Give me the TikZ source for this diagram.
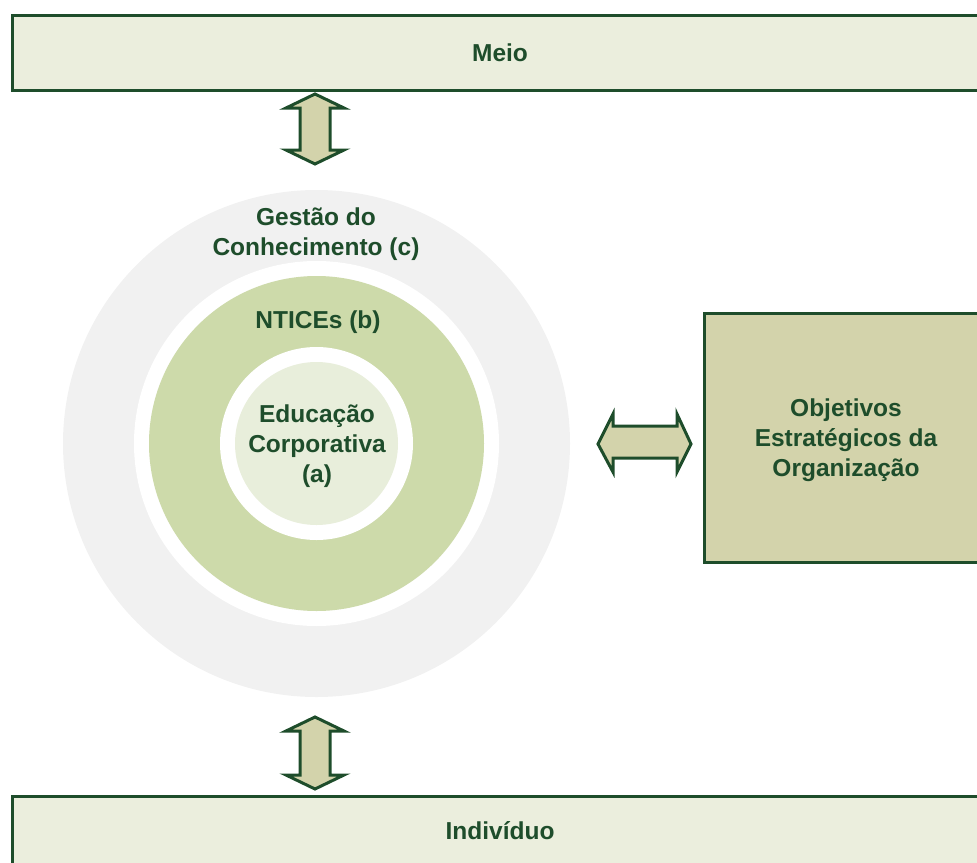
\documentclass[tikz,border=0pt]{standalone}
\usepackage{fontspec}
\setmainfont{Liberation Sans}
\definecolor{dkgreen}{HTML}{1E4D2B}
\definecolor{boxfill}{HTML}{EBEEDD}
\definecolor{arrfill}{HTML}{D3D3AB}
\definecolor{outerc}{HTML}{F1F1F1}
\definecolor{midc}{HTML}{CDDAAA}
\definecolor{innerc}{HTML}{E8EEDB}
\tikzset{
  x=1pt, y=-1pt,
  lbl/.style={text=dkgreen, font=\fontsize{24.5}{30}\selectfont\bfseries, align=center, inner sep=0pt},
  bandbox/.style={draw=dkgreen, line width=3pt, fill=boxfill},
  blockarr/.style={draw=dkgreen, line width=3pt, fill=arrfill, line join=miter},
}
\begin{document}
\begin{tikzpicture}
\useasboundingbox (0,0) rectangle (977,862);
% boxes
\draw[bandbox] (12,15) rectangle (1000,90);
\draw[bandbox] (12,796) rectangle (1000,880);
\draw[draw=dkgreen, line width=3pt, fill=arrfill] (704,313) rectangle (1000,562);
% circles
\coordinate (c) at (316.5,443.5);
\fill[outerc] (c) circle (253.5);
\fill[white] (c) circle (182.5);
\fill[midc] (c) circle (167.5);
\fill[white] (c) circle (96.5);
\fill[innerc] (c) circle (81.5);
% text nodes
\node[lbl] (meio) at (500,53) {Meio};
\node[lbl] (indiv) at (500,831) {Indivíduo};
\node[lbl] (gestao) at (316,234) {Gestão do\\Conhecimento (c)};
\node[lbl] (ntices) at (318,322) {NTICEs (b)};
\node[lbl] (educ) at (317,446) {Educação\\Corporativa\\(a)};
\node[lbl] (obj) at (846,440) {Objetivos\\Estratégicos da\\Organização};
% block arrows
\coordinate (ta) at (315,94);
\coordinate (ba) at (315,717);
\draw[blockarr] (ta) -- ++(29,14) -- ++(-14,0) -- ++(0,42) -- ++(14,0) -- ++(-29,14)
  -- ++(-29,-14) -- ++(14,0) -- ++(0,-42) -- ++(-14,0) -- cycle;
\draw[blockarr] (ba) -- ++(29,14) -- ++(-14,0) -- ++(0,44) -- ++(14,0) -- ++(-29,14)
  -- ++(-29,-14) -- ++(14,0) -- ++(0,-44) -- ++(-14,0) -- cycle;
\coordinate (la) at (598,444);
\draw[blockarr] (la) -- ++(15,-30) -- ++(0,12) -- ++(64,0) -- ++(0,-12) -- ++(14,30)
  -- ++(-14,28) -- ++(0,-14) -- ++(-64,0) -- ++(0,14) -- cycle;
\end{tikzpicture}
\end{document}
